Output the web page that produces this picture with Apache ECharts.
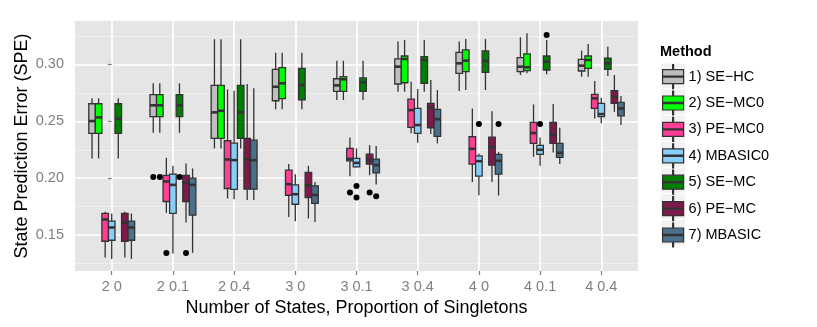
<!DOCTYPE html>
<html>
<head>
<meta charset="utf-8">
<script src="https://cdn.jsdelivr.net/npm/echarts@6/dist/echarts.min.js"></script>
<style>
  html, body { margin: 0; padding: 0; background: #fff; }
  #chart { width: 817px; height: 327px; }
</style>
</head>
<body>
<div id="chart"></div>
<script>
const categories = ['2 0', '2 0.1', '2 0.4', '3 0', '3 0.1', '3 0.4', '4 0', '4 0.1', '4 0.4']
const methods = ['1) SE\u2212HC', '2) SE\u2212MC0', '3) PE\u2212MC0', '4) MBASIC0', '5) SE\u2212MC', '6) PE\u2212MC', '7) MBASIC']
const colors = ['#BEBEBE', '#00FF00', '#FF3E96', '#87CEFA', '#008000', '#7E1A4B', '#4A708B']
const yTicks = [0.15, 0.2, 0.25, 0.3]
const yMinor = [0.125, 0.175, 0.225, 0.275, 0.325]

// [lower whisker, Q1, median, Q3, upper whisker] per category
const seHC = [
  [0.2174, 0.2394, 0.2502, 0.2654, 0.2701],
  [0.2399, 0.2540, 0.2640, 0.2733, 0.2833],
  [0.2262, 0.2350, 0.2578, 0.2815, 0.3220],
  [0.2605, 0.2680, 0.2803, 0.2956, 0.3102],
  [0.2686, 0.2763, 0.2815, 0.2873, 0.3032],
  [0.2759, 0.2827, 0.2979, 0.3047, 0.3199],
  [0.2765, 0.2921, 0.3009, 0.3105, 0.3199],
  [0.2906, 0.2935, 0.2979, 0.3058, 0.3237],
  [0.2891, 0.2941, 0.2988, 0.3044, 0.3120],
]
const seMC0 = [
  [0.2174, 0.2394, 0.2534, 0.2654, 0.2701],
  [0.2399, 0.2540, 0.2640, 0.2733, 0.2833],
  [0.2262, 0.2350, 0.2592, 0.2815, 0.3220],
  [0.2605, 0.2698, 0.2833, 0.2970, 0.3102],
  [0.2686, 0.2763, 0.2868, 0.2891, 0.3032],
  [0.2759, 0.2838, 0.3047, 0.3073, 0.3214],
  [0.2774, 0.2935, 0.3032, 0.3126, 0.3222],
  [0.2921, 0.2944, 0.2974, 0.3091, 0.3272],
  [0.2891, 0.2965, 0.3038, 0.3073, 0.3178],
]
const peMC0 = [
  [0.1304, 0.1447, 0.1638, 0.1691, 0.1705],
  [0.1696, 0.1796, 0.1972, 0.2025, 0.2179],
  [0.1822, 0.1910, 0.2165, 0.2329, 0.2780],
  [0.1661, 0.1851, 0.1948, 0.2071, 0.2124],
  [0.2018, 0.2153, 0.2170, 0.2262, 0.2358],
  [0.2394, 0.2446, 0.2598, 0.2695, 0.2847],
  [0.1968, 0.2124, 0.2258, 0.2364, 0.2613],
  [0.2188, 0.2306, 0.2397, 0.2490, 0.2648],
  [0.2525, 0.2613, 0.2701, 0.2736, 0.2853],
]
const mbasic0 = [
  [0.1292, 0.1456, 0.1568, 0.1623, 0.1691],
  [0.1339, 0.1691, 0.1942, 0.2036, 0.2109],
  [0.1816, 0.1902, 0.2159, 0.2308, 0.2768],
  [0.1623, 0.1772, 0.1860, 0.1942, 0.2036],
  [0.2095, 0.2100, 0.2135, 0.2174, 0.2262],
  [0.2311, 0.2394, 0.2467, 0.2613, 0.2783],
  [0.1851, 0.2018, 0.2150, 0.2197, 0.2218],
  [0.2109, 0.2209, 0.2250, 0.2288, 0.2358],
  [0.2482, 0.2540, 0.2563, 0.2657, 0.2706],
]
const seMC = [
  [0.2174, 0.2394, 0.2522, 0.2654, 0.2701],
  [0.2399, 0.2540, 0.2640, 0.2733, 0.2833],
  [0.2262, 0.2350, 0.2578, 0.2815, 0.3220],
  [0.2605, 0.2689, 0.2818, 0.2965, 0.3102],
  [0.2686, 0.2763, 0.2842, 0.2880, 0.3032],
  [0.2759, 0.2833, 0.3038, 0.3067, 0.3214],
  [0.2774, 0.2930, 0.3029, 0.3117, 0.3222],
  [0.2912, 0.2950, 0.3023, 0.3073, 0.3214],
  [0.2897, 0.2956, 0.3009, 0.3053, 0.3155],
]
const peMC = [
  [0.1304, 0.1447, 0.1612, 0.1691, 0.1705],
  [0.1612, 0.1796, 0.1960, 0.2025, 0.2130],
  [0.1808, 0.1904, 0.2165, 0.2350, 0.2827],
  [0.1647, 0.1831, 0.1939, 0.2051, 0.2109],
  [0.2027, 0.2124, 0.2159, 0.2212, 0.2291],
  [0.2388, 0.2443, 0.2622, 0.2657, 0.2862],
  [0.1968, 0.2115, 0.2272, 0.2361, 0.2588],
  [0.2225, 0.2306, 0.2382, 0.2490, 0.2651],
  [0.2583, 0.2657, 0.2715, 0.2768, 0.2906],
]
const mbasic = [
  [0.1292, 0.1456, 0.1568, 0.1623, 0.1691],
  [0.1345, 0.1676, 0.1942, 0.2001, 0.2086],
  [0.1808, 0.1904, 0.2159, 0.2335, 0.2789],
  [0.1617, 0.1779, 0.1854, 0.1933, 0.1968],
  [0.1945, 0.2047, 0.2115, 0.2168, 0.2282],
  [0.2306, 0.2367, 0.2519, 0.2605, 0.2774],
  [0.1848, 0.2036, 0.2153, 0.2209, 0.2232],
  [0.2124, 0.2183, 0.2223, 0.2306, 0.2443],
  [0.2467, 0.2548, 0.2613, 0.2666, 0.2721],
]

// outliers: [category index, value]
const seHCOut = [[1, 0.2010]]
const seMC0Out = [[1, 0.2010]]
const peMC0Out = [[1, 0.1345], [4, 0.1875]]
const mbasic0Out = [[4, 0.1931], [4, 0.1831], [6, 0.2475], [7, 0.2475]]
const seMCOut = [[1, 0.2010], [7, 0.3257]]
const peMCOut = [[1, 0.1345], [4, 0.1875]]
const mbasicOut = [[4, 0.1843], [6, 0.2475]]

const boxes = [seHC, seMC0, peMC0, mbasic0, seMC, peMC, mbasic]
const outliers = [seHCOut, seMC0Out, peMC0Out, mbasic0Out, seMCOut, peMCOut, mbasicOut]

// dodge like ggplot: 0.75 of a category split in 7 slots
const slot = 0.75 / methods.length
const font = 'Liberation Sans, Arial, Helvetica, sans-serif'

function renderBox(k) {
  return function (params, api) {
    const x = api.value(0) + (k - 3) * slot
    const half = api.size([slot, 0])[0] / 2
    const lo = api.coord([x, api.value(1)])
    const q1 = api.coord([x, api.value(2)])
    const md = api.coord([x, api.value(3)])
    const q3 = api.coord([x, api.value(4)])
    const hi = api.coord([x, api.value(5)])
    const line = { stroke: '#333333', lineWidth: 1.3 }
    return {
      type: 'group',
      children: [
        { type: 'line', shape: { x1: hi[0], y1: hi[1], x2: q3[0], y2: q3[1] }, style: line },
        { type: 'line', shape: { x1: q1[0], y1: q1[1], x2: lo[0], y2: lo[1] }, style: line },
        {
          type: 'rect',
          shape: { x: q3[0] - half, y: q3[1], width: half * 2, height: q1[1] - q3[1] },
          style: { fill: colors[k], stroke: '#333333', lineWidth: 1.3 },
        },
        { type: 'line', shape: { x1: md[0] - half, y1: md[1], x2: md[0] + half, y2: md[1] }, style: { stroke: '#333333', lineWidth: 2.6 } },
      ],
    }
  }
}

const series = []
methods.forEach((name, k) => {
  series.push({
    name,
    type: 'custom',
    renderItem: renderBox(k),
    itemStyle: { color: colors[k] },
    encode: { x: 0, y: [1, 2, 3, 4, 5] },
    data: boxes[k].map((b, i) => [i, ...b]),
    z: 2,
  })
})
methods.forEach((name, k) => {
  series.push({
    name: 'out' + k,
    type: 'scatter',
    symbolSize: 6,
    itemStyle: { color: '#000000', opacity: 1 },
    data: outliers[k].map(([i, v]) => [i + (k - 3) * slot, v]),
    z: 3,
  })
})

const keyBg = methods.map((m, i) => ({
  type: 'rect',
  left: 661,
  top: 63.5 + i * 26.1,
  shape: { width: 24, height: 25 },
  style: { fill: '#F2F2F2' },
  z: 0,
}))

const chart = echarts.init(document.getElementById('chart'), null, { renderer: 'canvas' })
chart.setOption({
  animation: false,
  backgroundColor: '#ffffff',
  textStyle: { fontFamily: font },
  title: {
    text: 'Method',
    left: 660,
    top: 44,
    padding: 0,
    textStyle: { fontFamily: font, fontSize: 14.5, fontWeight: 'bold', color: '#000000' },
  },
  graphic: keyBg,
  legend: {
    data: methods,
    orient: 'vertical',
    left: 662,
    top: 64,
    padding: 0,
    itemWidth: 21,
    itemHeight: 24,
    itemGap: 1.2,
    icon: 'path://M0,5H21V19H0Z M0,11.4H21V12.6H0Z M10,0H11V5H10Z M10,19H11V24H10Z',
    itemStyle: { borderColor: '#333333', borderWidth: 1.2 },
    textStyle: { fontFamily: font, fontSize: 14.5, color: '#000000' },
    selectedMode: false,
    z: 5,
  },
  grid: {
    left: 75,
    top: 21,
    width: 563,
    height: 250,
    show: true,
    backgroundColor: '#E5E5E5',
    borderWidth: 0,
  },
  xAxis: {
    type: 'value',
    min: -0.6,
    max: 8.6,
    name: 'Number of States, Proportion of Singletons',
    nameLocation: 'middle',
    nameGap: 25,
    nameTextStyle: { fontFamily: font, fontSize: 18, color: '#000000' },
    axisLine: { show: false },
    axisTick: { show: true, length: 4, customValues: categories.map((c, i) => i), lineStyle: { color: '#7F7F7F', width: 1.2 } },
    axisLabel: {
      customValues: categories.map((c, i) => i),
      formatter: v => categories[Math.round(v)],
      margin: 8,
      fontFamily: font,
      fontSize: 14.5,
      color: '#7F7F7F',
    },
    splitLine: { show: true, lineStyle: { color: '#FFFFFF', width: 1.6 } },
  },
  yAxis: [
    {
      type: 'value',
      min: 0.1186,
      max: 0.338,
      name: 'State Prediction Error (SPE)',
      nameLocation: 'middle',
      nameMoveOverlap: false,
      nameGap: 44,
      nameTextStyle: { fontFamily: font, fontSize: 18, color: '#000000' },
      axisLine: { show: false },
      axisTick: { show: true, length: 4, customValues: yTicks, lineStyle: { color: '#7F7F7F', width: 1.2 } },
      axisLabel: {
        customValues: yTicks,
        formatter: v => v.toFixed(2),
        margin: 11,
        fontFamily: font,
        fontSize: 14.5,
        color: '#7F7F7F',
      },
      splitLine: { show: true, lineStyle: { color: '#FFFFFF', width: 1.6 } },
      z: 1,
    },
    {
      type: 'value',
      min: 0.1186,
      max: 0.338,
      show: true,
      axisLine: { show: false },
      axisTick: { show: false, customValues: yMinor },
      axisLabel: { show: false, customValues: yMinor },
      splitLine: { show: true, lineStyle: { color: '#F2F2F2', width: 0.8 } },
      z: 0,
    },
  ],
  series,
})
</script>
</body>
</html>
